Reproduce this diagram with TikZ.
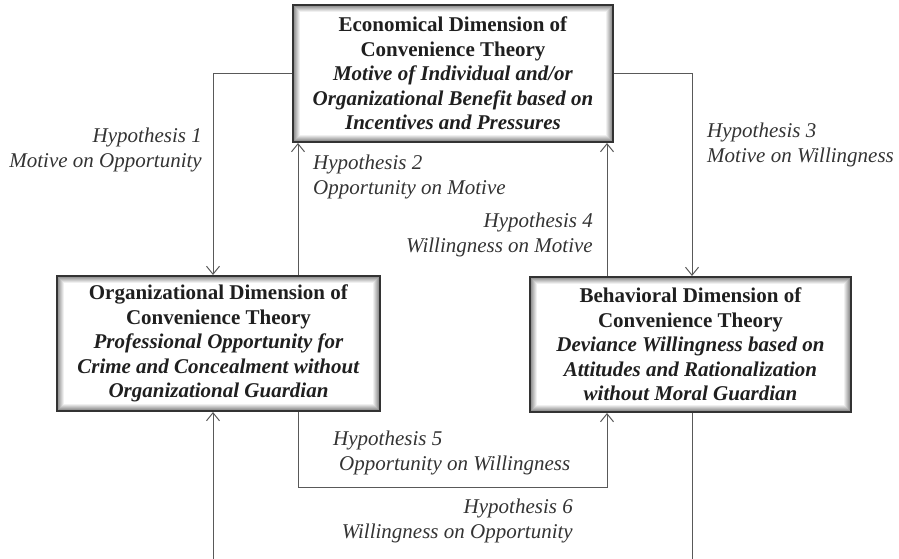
\documentclass[tikz,border=0pt]{standalone}
\usepackage{fontspec}
\setmainfont{Liberation Serif}
\usetikzlibrary{arrows.meta,backgrounds}
\tikzset{
  dimbox/.style={draw=black!80, line width=2pt, inner sep=0pt, align=center,
    text=black!88, font=\fontsize{21}{24.5}\selectfont},
  hyp/.style={inner sep=0pt, text=black!80, font=\fontsize{21}{25}\selectfont\itshape},
  arr/.style={draw=black!65, line width=1pt, -{Straight Barb[length=8pt,width=13pt,line width=1pt]}},
}
\begin{document}
\begin{tikzpicture}[x=1pt,y=-1pt]
\useasboundingbox (0,0) rectangle (899,559);
\node[dimbox, minimum width=320pt, minimum height=137pt] (top) at (453,73.5)
  {\textbf{Economical Dimension of}\\\textbf{Convenience Theory}\\
   \textbf{\textit{Motive of Individual and/or}}\\
   \textbf{\textit{Organizational Benefit based on}}\\
   \textbf{\textit{Incentives and Pressures}}};
\node[dimbox, minimum width=323pt, minimum height=135pt] (left) at (218.5,343.5)
  {\textbf{Organizational Dimension of}\\\textbf{Convenience Theory}\\
   \textbf{\textit{Professional Opportunity for}}\\
   \textbf{\textit{Crime and Concealment without}}\\
   \textbf{\textit{Organizational Guardian}}};
\node[dimbox, minimum width=321pt, minimum height=135pt] (right) at (690.5,344.5)
  {\textbf{Behavioral Dimension of}\\\textbf{Convenience Theory}\\
   \textbf{\textit{Deviance Willingness based on}}\\
   \textbf{\textit{Attitudes and Rationalization}}\\
   \textbf{\textit{without Moral Guardian}}};
\begin{pgfonlayer}{background}
\foreach \n in {top,left,right}{
  \foreach \k [evaluate=\k as \c using 62-7*\k] in {1,...,9}{
    \draw[line width=1.1pt, draw=black!\c]
      ([shift={(\k,\k)}]\n.north west) rectangle ([shift={(-\k,-\k)}]\n.south east);
  }
}
\end{pgfonlayer}
% connectors
\draw[arr] (top.west) -| ([xshift=-5.5pt]left.north);
\draw[arr] (top.east) -| ([xshift=1.5pt]right.north);
\draw[arr] ([xshift=79.5pt]left.north) -- ([xshift=79.5pt]left.north |- top.south);
\draw[arr] ([xshift=-83.5pt]right.north) -- ([xshift=-83.5pt]right.north |- top.south);
\draw[arr] ([xshift=79.5pt]left.south) -- ++(0,75) -| ([xshift=-83.5pt]right.south);
\draw[arr] ([xshift=1.5pt]right.south) -- ++(0,146) -| ([xshift=-5.5pt]left.south);
% labels
\node[hyp, anchor=east, align=right] (h1) at (202,150) {Hypothesis 1\\Motive on Opportunity};
\node[hyp, anchor=west, align=left] (h2) at (313,177) {Hypothesis 2\\Opportunity on Motive};
\node[hyp, anchor=west, align=left] (h3) at (707,145) {Hypothesis 3\\Motive on Willingness};
\node[hyp, anchor=east, align=right] (h4) at (593,235) {Hypothesis 4\\Willingness on Motive};
\node[hyp, anchor=west] (h5a) at (333,440) {Hypothesis 5};
\node[hyp, anchor=west] (h5b) at (339,465) {Opportunity on Willingness};
\node[hyp, anchor=east, align=right] (h6) at (573,521) {Hypothesis 6\\Willingness on Opportunity};
\end{tikzpicture}
\end{document}
